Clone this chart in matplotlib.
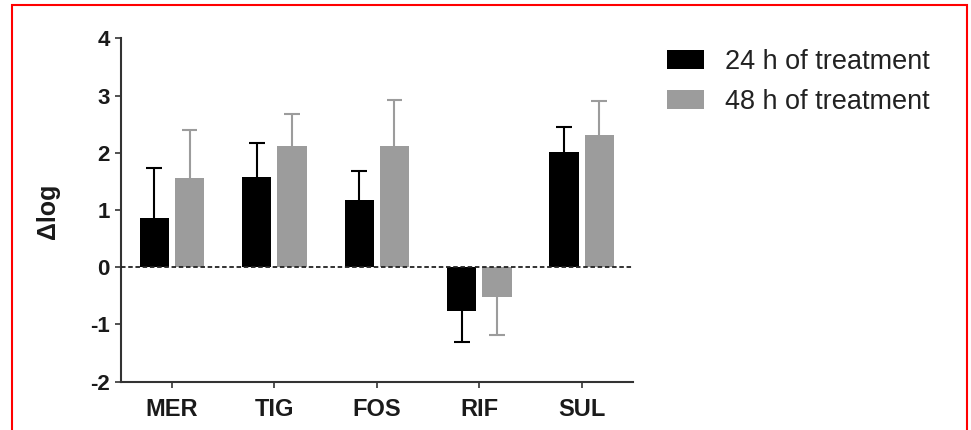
import numpy as np
import matplotlib
matplotlib.use("Agg")
import matplotlib.pyplot as plt
from matplotlib.patches import Rectangle

plt.rcParams['font.family'] = ['Liberation Sans', 'DejaVu Sans']

# Data
drugs = ["MER", "TIG", "FOS", "RIF", "SUL"]
delta_24h = [0.86, 1.57, 1.18, -0.77, 2.01]
err_24h = [0.88, 0.60, 0.51, 0.53, 0.44]
delta_48h = [1.56, 2.11, 2.11, -0.52, 2.31]
err_48h = [0.84, 0.56, 0.82, 0.67, 0.60]
series_labels = ["24 h of treatment", "48 h of treatment"]
y_ticks = [-2, -1, 0, 1, 2, 3, 4]

W, H = 971, 430
fig = plt.figure(figsize=(W / 100, H / 100), dpi=100)
ax = fig.add_axes([120.7 / W, 1 - 381.7 / H, (633 - 120.7) / W, (381.7 - 38.3) / H])

x = np.arange(len(drugs))
bw = 0.287
off = 0.172
cap_w = 0.155
colors = ["#000000", "#9c9c9c"]

for i, (vals, errs) in enumerate([(delta_24h, err_24h), (delta_48h, err_48h)]):
    pos = x + (2 * i - 1) * off
    vals = np.asarray(vals)
    errs = np.asarray(errs)
    ax.bar(pos, vals, width=bw, color=colors[i], label=series_labels[i], zorder=2)
    # one-sided error bars pointing away from zero
    tips = vals + np.sign(vals) * errs
    ax.vlines(pos, vals, tips, color=colors[i], lw=1.5, zorder=1)
    ax.hlines(tips, pos - cap_w / 2, pos + cap_w / 2, color=colors[i], lw=1.5, zorder=1)

ax.axhline(0, color="#222222", lw=1.3, ls=(0, (2.5, 1.5)), zorder=3)

ax.set_xlim(-0.5, 4.5)
ax.set_ylim(-2, 4)
ax.set_yticks(y_ticks)
ax.set_yticklabels([str(t) for t in y_ticks])
ax.set_xticks(x)
ax.set_xticklabels(drugs)

for side in ["top", "right"]:
    ax.spines[side].set_visible(False)
for side in ["left", "bottom"]:
    ax.spines[side].set_color("#333333")
    ax.spines[side].set_linewidth(1.5)

ax.tick_params(axis="y", direction="out", length=4, width=1.2, color="#333333",
               pad=4, labelsize=16)
ax.tick_params(axis="x", direction="out", length=4.5, width=1.2, color="#333333",
               pad=7, labelsize=17)
for lab in ax.get_xticklabels() + ax.get_yticklabels():
    lab.set_fontweight("bold")
    lab.set_color("#1a1a1a")

fig.text(48 / W, 1 - 211 / H, "Δlog", rotation=90, ha="center", va="center",
         fontsize=18, fontweight="bold", color="#1a1a1a")

fig.legend(loc="upper left", bbox_to_anchor=(667 / W, 1 - 49 / H),
           frameon=False, fontsize=19.5, handlelength=1.35, handleheight=0.7,
           handletextpad=0.8, labelspacing=0.5, borderpad=0, borderaxespad=0,
           labelcolor="#222222")

fig.add_artist(Rectangle((11.5 / W, -0.1), (967 - 11.5) / W, 1.1 - 5 / H,
                         transform=fig.transFigure, fill=False,
                         edgecolor="#ff0000", linewidth=1.5, clip_on=False))

fig.savefig("out.png", dpi=100)
